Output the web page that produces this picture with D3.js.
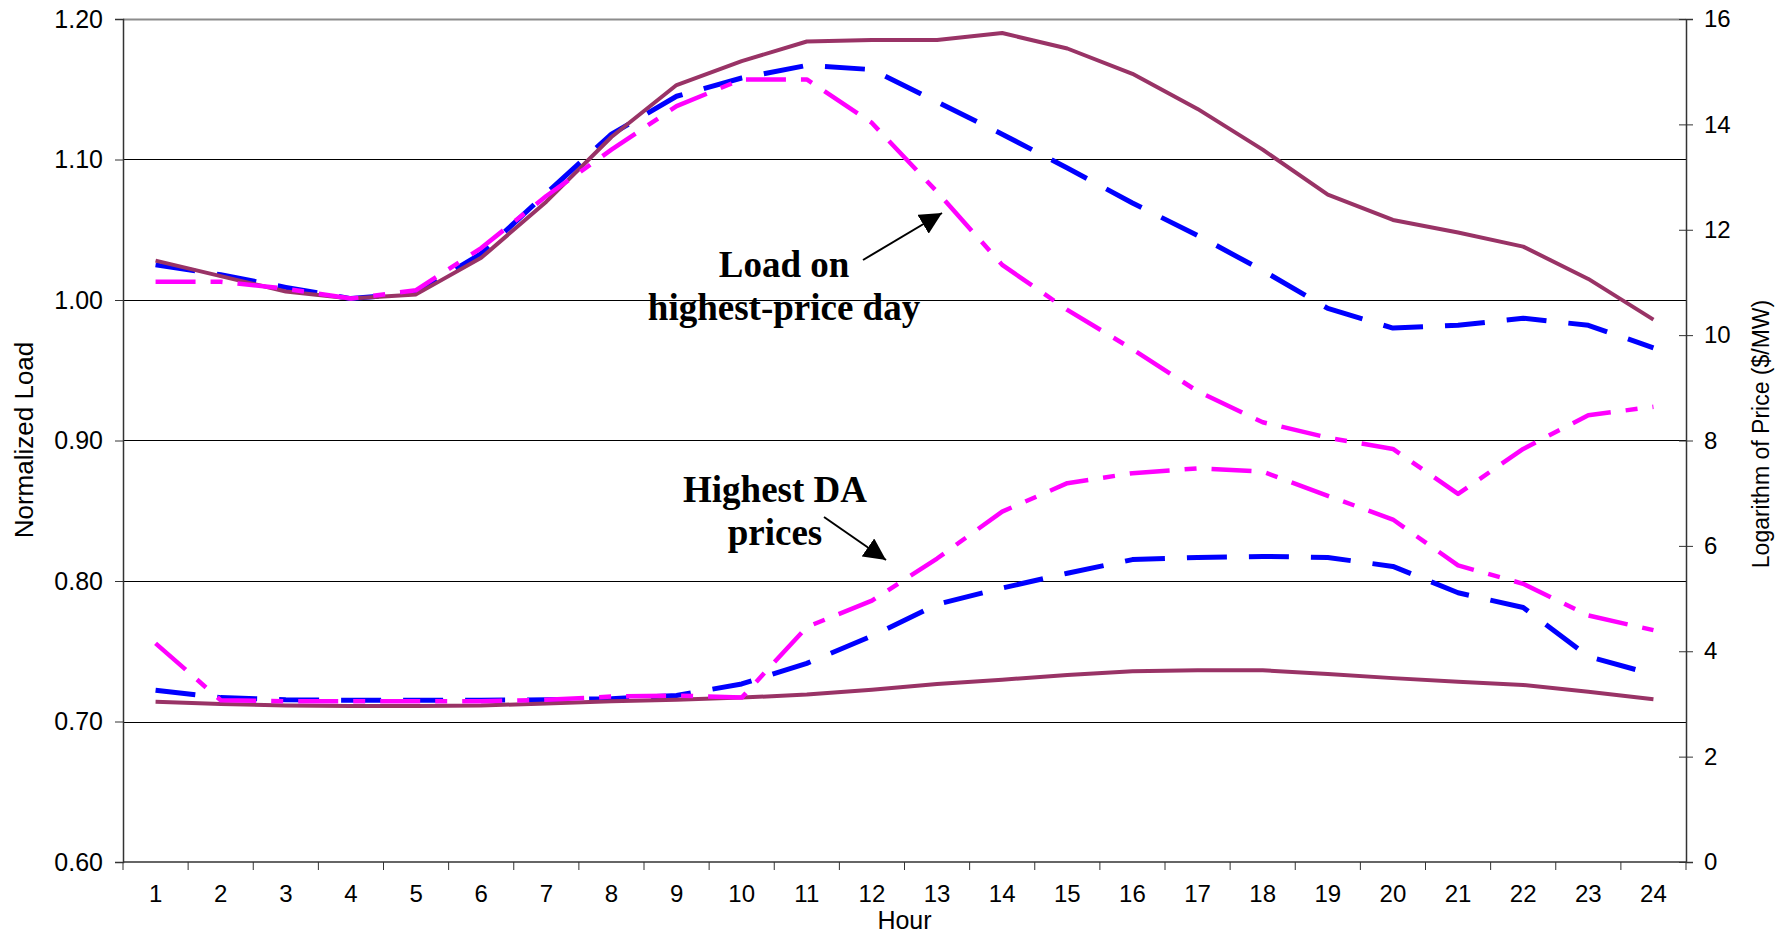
<!DOCTYPE html>
<html lang="en">
<head>
    <meta charset="UTF-8">
    <title>Load and Price by Hour</title>
    <style>
        body { margin: 0; background: #ffffff; }
        svg { display: block; background: #ffffff; }
    </style>
    <script src="https://d3js.org/d3.v7.min.js"></script>
</head>
<body>
    <svg width="1788" height="937"></svg>
    <script>
        // data
        const hours = d3.range(1, 25);
        const loadTicks = [0.60, 0.70, 0.80, 0.90, 1.00, 1.10, 1.20];
        const priceTicks = [0, 2, 4, 6, 8, 10, 12, 14, 16];

        // left axis: normalized load
        const loadSolid = [1.028, 1.017, 1.006, 1.001, 1.004, 1.030, 1.070, 1.116, 1.153, 1.170, 1.184, 1.185,
                           1.185, 1.190, 1.179, 1.161, 1.136, 1.107, 1.075, 1.057, 1.048, 1.038, 1.015, 0.986];
        const loadBlue = [1.025, 1.018, 1.009, 1.001, 1.005, 1.033, 1.076, 1.118, 1.145, 1.158, 1.167, 1.164,
                          1.141, 1.118, 1.094, 1.069, 1.046, 1.021, 0.994, 0.980, 0.982, 0.987, 0.982, 0.966];
        const loadPink = [1.013, 1.013, 1.008, 1.001, 1.007, 1.037, 1.074, 1.107, 1.138, 1.157, 1.157, 1.126,
                          1.077, 1.025, 0.993, 0.965, 0.935, 0.913, 0.902, 0.894, 0.862, 0.894, 0.918, 0.924];

        // right axis: log of price
        const priceSolid = [3.04, 3.00, 2.97, 2.96, 2.96, 2.97, 3.01, 3.05, 3.08, 3.12, 3.18, 3.27,
                            3.38, 3.46, 3.55, 3.62, 3.64, 3.64, 3.57, 3.49, 3.42, 3.36, 3.23, 3.09];
        const priceBlue = [3.26, 3.12, 3.08, 3.07, 3.07, 3.07, 3.08, 3.10, 3.16, 3.38, 3.77, 4.29,
                           4.89, 5.20, 5.48, 5.74, 5.78, 5.80, 5.78, 5.61, 5.11, 4.83, 3.90, 3.56];
        const pricePink = [4.15, 3.07, 3.05, 3.05, 3.05, 3.05, 3.08, 3.14, 3.16, 3.12, 4.46, 4.96,
                           5.76, 6.65, 7.19, 7.38, 7.47, 7.41, 6.95, 6.50, 5.63, 5.28, 4.68, 4.40];

        const svg = d3.select("svg");
        const pLeft = 123, pRight = 1686, pTop = 19, pBottom = 862;
        const sans = "'Liberation Sans', Arial, sans-serif";

        const x = d3.scaleBand().domain(hours).range([pLeft, pRight]);
        const yLoad = d3.scaleLinear().domain([0.6, 1.2]).range([pBottom, pTop]);
        const yPrice = d3.scaleLinear().domain([0, 16]).range([pBottom, pTop]);
        const cx = h => x(h) + x.bandwidth() / 2;

        // gridlines
        svg.append("g")
            .selectAll("line")
            .data(loadTicks.slice(1))
            .join("line")
            .attr("x1", pLeft).attr("x2", pRight)
            .attr("y1", d => Math.round(yLoad(d)) + 0.5)
            .attr("y2", d => Math.round(yLoad(d)) + 0.5)
            .attr("stroke", d => d === 1.2 ? "#8c8c8c" : "#000")
            .attr("stroke-width", d => d === 1.2 ? 2 : 1);

        // left axis
        const gL = svg.append("g")
            .attr("transform", `translate(${pLeft},0)`)
            .call(d3.axisLeft(yLoad).tickValues(loadTicks).tickFormat(d3.format(".2f")).tickSize(8).tickPadding(12));

        // right axis
        const gR = svg.append("g")
            .attr("transform", `translate(${pRight},0)`)
            .call(d3.axisRight(yPrice).tickValues(priceTicks).tickSize(7).tickPadding(11));
        gR.selectAll(".tick line").attr("x1", -7);

        // bottom axis, ticks between the hours
        const gB = svg.append("g")
            .attr("transform", `translate(0,${pBottom})`)
            .call(d3.axisBottom(x).tickSize(0).tickPadding(23));
        gB.selectAll(".tick line").remove();
        gB.selectAll("line.sep")
            .data(hours.concat([25]))
            .join("line")
            .attr("class", "sep")
            .attr("x1", d => d === 25 ? pRight : x(d))
            .attr("x2", d => d === 25 ? pRight : x(d))
            .attr("y1", 0).attr("y2", 8)
            .attr("stroke", "#333");

        [[gL, 25], [gR, 24], [gB, 24]].forEach(([g, fs]) => {
            g.select(".domain").attr("stroke", "#333").attr("stroke-width", 1.5);
            g.selectAll(".tick line").attr("stroke", "#333");
            g.selectAll("text")
                .attr("font-family", sans)
                .attr("font-size", fs)
                .attr("fill", "#000");
        });
        gB.select(".domain").attr("d", `M${pLeft},0H${pRight}`);

        // series
        const lineLoad = vals => d3.line().x((d, i) => cx(hours[i])).y(d => yLoad(d))(vals);
        const linePrice = vals => d3.line().x((d, i) => cx(hours[i])).y(d => yPrice(d))(vals);

        const series = [
            { path: lineLoad(loadBlue), color: "#0000ff", width: 5, dash: "40,22" },
            { path: linePrice(priceBlue), color: "#0000ff", width: 5, dash: "40,22" },
            { path: lineLoad(loadSolid), color: "#993366", width: 4, dash: null },
            { path: linePrice(priceSolid), color: "#993366", width: 4, dash: null },
            { path: lineLoad(loadPink), color: "#ff00ff", width: 4.5, dash: "40,15,12,15" },
            { path: linePrice(pricePink), color: "#ff00ff", width: 4.5, dash: "40,15,12,15" }
        ];
        svg.append("g")
            .selectAll("path")
            .data(series)
            .join("path")
            .attr("d", d => d.path)
            .attr("fill", "none")
            .attr("stroke", d => d.color)
            .attr("stroke-width", d => d.width)
            .attr("stroke-dasharray", d => d.dash)
            .attr("stroke-linejoin", "round");

        // axis titles
        svg.append("text")
            .attr("x", x(13)).attr("y", 929)
            .attr("text-anchor", "middle")
            .attr("font-family", sans).attr("font-size", 25)
            .text("Hour");
        svg.append("text")
            .attr("transform", "translate(33,440) rotate(-90)")
            .attr("text-anchor", "middle")
            .attr("font-family", sans).attr("font-size", 26)
            .text("Normalized Load");
        svg.append("text")
            .attr("transform", "translate(1769,434) rotate(-90)")
            .attr("text-anchor", "middle")
            .attr("font-family", sans).attr("font-size", 23)
            .text("Logarithm of Price ($/MW)");

        // annotations
        svg.append("defs").append("marker")
            .attr("id", "head")
            .attr("viewBox", "0 0 10 10")
            .attr("refX", 10).attr("refY", 5)
            .attr("markerWidth", 22).attr("markerHeight", 22)
            .attr("markerUnits", "userSpaceOnUse")
            .attr("orient", "auto")
            .append("path")
            .attr("d", "M0,0L10,5L0,10Z")
            .attr("fill", "#000");

        const serif = "'Liberation Serif', 'Times New Roman', serif";
        const notes = [
            { lines: ["Load on", "highest-price day"], x: 784, y: 277, from: [863, 260], to: [942, 213] },
            { lines: ["Highest DA", "prices"], x: 775, y: 502, from: [824, 517], to: [886, 560] }
        ];
        notes.forEach(n => {
            const t = svg.append("text")
                .attr("text-anchor", "middle")
                .attr("font-family", serif)
                .attr("font-weight", "bold")
                .attr("font-size", 37);
            n.lines.forEach((s, i) => {
                t.append("tspan").attr("x", n.x).attr("y", n.y + i * 43).text(s);
            });
            svg.append("line")
                .attr("x1", n.from[0]).attr("y1", n.from[1])
                .attr("x2", n.to[0]).attr("y2", n.to[1])
                .attr("stroke", "#000").attr("stroke-width", 2)
                .attr("marker-end", "url(#head)");
        });
    </script>
</body>
</html>
